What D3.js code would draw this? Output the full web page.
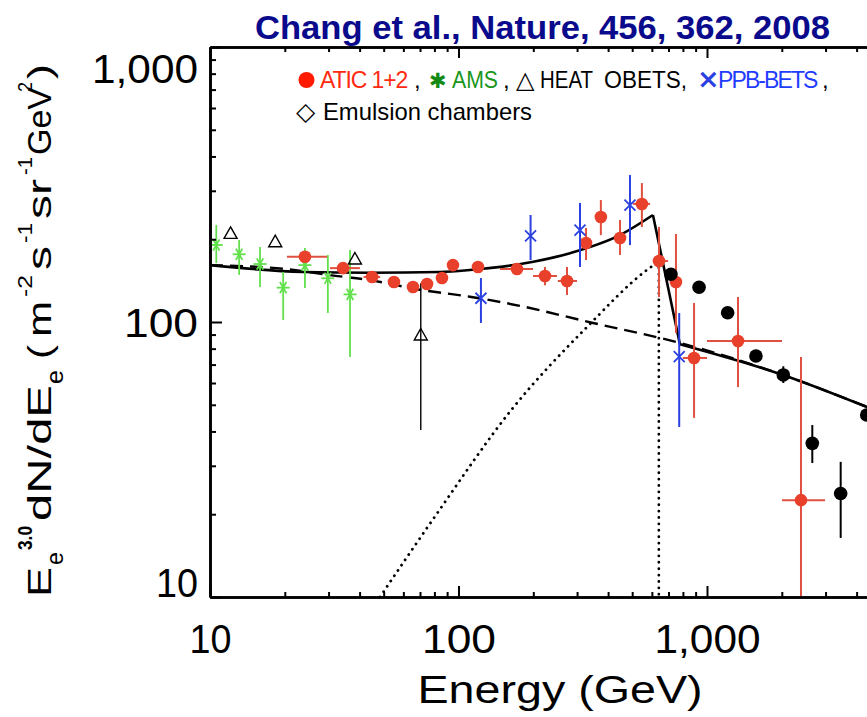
<!DOCTYPE html>
<html><head><meta charset="utf-8">
<script src="https://cdn.jsdelivr.net/npm/d3@7"></script>
<style>body{margin:0;background:#fff;overflow:hidden}</style>
</head><body>
<svg id="c" width="867" height="717"></svg>
<script>
// ---------------- DATA ----------------
const xMajor = [10, 100, 1000, 10000];
const yMajor = [10, 100, 1000];
const xTickLabels = ["10", "100", "1,000"];
const yTickLabels = ["10", "100", "1,000"];

// ATIC 1+2 (red)
const aticE   = [24.1, 34.3, 44.9, 55.0, 65.6, 74.7, 85.8, 95, 119.8, 171.9, 222.8, 273.3, 326, 374, 446.7, 547, 641, 750, 887, 1333, 2389];
const aticV   = [172.8, 157, 145.8, 139.8, 134, 137.5, 144.6, 161, 158.5, 155.9, 147, 141, 193.8, 240.9, 202, 268.7, 166.6, 139.7, 74, 85.3, 22.5];
const aticVlo = [165, 150, 140, 134, 128, 131, 138, 154, 151, 149, 136, 125.4, 168, 207, 175.3, 221.5, 123.3, 91.2, 44.8, 58, 5];
const aticVhi = [181, 164, 152, 146, 140, 144, 151, 168, 166, 163, 158.5, 158.5, 219.7, 277.6, 235, 320, 221.5, 208.9, 117.3, 123.3, 74.6];
const aticElo = [20.4, 30.4, 41.5, null, null, null, null, null, null, 146.9, 199.4, 251, null, null, null, 503.7, 606, null, 800, 1000, 2004];
const aticEhi = [29.6, 40.1, 48.4, null, null, null, null, null, null, 199.4, 249, 299.8, null, null, null, 590, 697, null, 1000, 2004, 2985];

// AMS (green asterisks)
const amsE   = [10.6, 13.1, 15.9, 19.7, 24.1, 29.8, 36.6];
const amsV   = [190.6, 176.3, 162.5, 133.3, 161, 144.2, 126];
const amsVlo = [163.9, 148.3, 134, 101.7, 132.9, 107.8, 74.6];
const amsVhi = [225.3, 198.7, 187.4, 152, 185.8, 175.3, 182.7];

// HEAT (open triangles)
const heatE   = [12.1, 18.3, 38.3, 70.5];
const heatV   = [210, 195.9, 169.5, 89.7];
const heatVlo = [null, null, null, 40.5];
const heatVhi = [null, null, null, 138.4];

// PPB-BETS (blue crosses)
const ppbE   = [123.1, 195, 308.3, 489.8, 773];
const ppbV   = [122, 205.5, 216, 266.3, 74.8];
const ppbVlo = [99.2, 168, 158.5, 190.4, 41.5];
const ppbVhi = [144.5, 245, 271, 342.5, 107.8];

// black filled circles (BETS / emulsion)
const blkE   = [716, 929, 1211, 1574, 2028, 2653, 3451, 4393];
const blkV   = [149.1, 133.7, 108.1, 75.2, 64.2, 36.2, 23.8, 45.9];
const blkVlo = [null, null, null, null, 60, 30.7, 16.4, null];
const blkVhi = [null, null, null, null, 69, 42.2, 31, null];

// model: background (dashed)
const bgE = [10, 20, 30.4, 44, 70, 111, 157, 348, 778, 2023, 4500];
const bgV = [161, 155.9, 148, 142, 131, 123.6, 117, 99.2, 83.9, 64.2, 48.7];
// model: source (dotted)
const srcE = [48.3, 80, 165.6, 328.9, 573, 640];
const srcV = [10, 19.5, 48.7, 95.9, 154.6, 166];
const srcCutE = [640, 640];
const srcCutV = [166, 9];
// model: total (solid)
const totE1 = [10, 23.7, 44, 84.3, 111, 200, 281, 446, 606];
const totV1 = [161, 152, 151, 152, 154.6, 165.6, 178, 207, 245];
const totE2 = [606, 778];
const totV2 = [245, 83];
const totE3 = [778, 2023, 4500];
const totV3 = [83, 64.2, 48.7];

const titleText = "Chang et al., Nature, 456, 362, 2008";
const xTitle = "Energy (GeV)";

// ---------------- CHART ----------------
const svg = d3.select("#c");
const x = d3.scaleLog().domain([10, 10000]).range([210, 955.5]);
const y = d3.scaleLog().domain([10, 1000]).range([597, 47]);

const RED = "#e8402a", RED_BAR = "#e0503e", GREEN = "#62e04c", BLUE = "#2a40e0";

svg.append("defs").append("clipPath").attr("id", "plot")
  .append("rect").attr("x", 210).attr("y", 47).attr("width", 760).attr("height", 550);

const zip = (a, b) => a.map((d, i) => [d, b[i]]);
const line = d3.line().x(d => x(d[0])).y(d => y(d[1]));
const smooth = d3.line().x(d => x(d[0])).y(d => y(d[1])).curve(d3.curveMonotoneX);

const g = svg.append("g").attr("clip-path", "url(#plot)");

// model curves
g.append("path").attr("d", smooth(zip(bgE, bgV)))
  .attr("fill", "none").attr("stroke", "#000").attr("stroke-width", 2.4).attr("stroke-dasharray", "13,7");
g.append("path").attr("d", smooth(zip(srcE, srcV)))
  .attr("fill", "none").attr("stroke", "#000").attr("stroke-width", 2.8)
  .attr("stroke-linecap", "round").attr("stroke-dasharray", "0.1,6.3");
g.append("path").attr("d", line(zip(srcCutE, srcCutV)))
  .attr("fill", "none").attr("stroke", "#000").attr("stroke-width", 2.8)
  .attr("stroke-linecap", "round").attr("stroke-dasharray", "0.1,6.3");
[[totE1, totV1, smooth], [totE2, totV2, line], [totE3, totV3, smooth]].forEach(([e, v, f]) => {
  g.append("path").attr("d", f(zip(e, v)))
    .attr("fill", "none").attr("stroke", "#000").attr("stroke-width", 2.6).attr("stroke-linejoin", "round");
});

function vbars(E, lo, hi, color, w) {
  E.forEach((e, i) => {
    if (lo[i] == null) return;
    g.append("line").attr("x1", x(e)).attr("x2", x(e)).attr("y1", y(hi[i])).attr("y2", y(lo[i]))
      .attr("stroke", color).attr("stroke-width", w);
  });
}
function hbars(E, V, lo, hi, color, w) {
  E.forEach((e, i) => {
    if (lo[i] == null) return;
    g.append("line").attr("x1", x(lo[i])).attr("x2", x(hi[i])).attr("y1", y(V[i])).attr("y2", y(V[i]))
      .attr("stroke", color).attr("stroke-width", w);
  });
}

// AMS
vbars(amsE, amsVlo, amsVhi, GREEN, 1.8);
amsE.forEach((e, i) => {
  const cx = x(e), cy = y(amsV[i]), r = 6.5;
  [0, 60, 120].forEach(a => {
    const rad = a * Math.PI / 180;
    g.append("line").attr("x1", cx - r * Math.cos(rad)).attr("y1", cy - r * Math.sin(rad))
      .attr("x2", cx + r * Math.cos(rad)).attr("y2", cy + r * Math.sin(rad))
      .attr("stroke", GREEN).attr("stroke-width", 1.8);
  });
});

// HEAT
vbars(heatE, heatVlo, heatVhi, "#000", 1.4);
heatE.forEach((e, i) => {
  const cx = x(e), cy = y(heatV[i]);
  g.append("path").attr("d", `M${cx},${cy - 6.5}L${cx + 6.5},${cy + 5}L${cx - 6.5},${cy + 5}Z`)
    .attr("fill", "none").attr("stroke", "#000").attr("stroke-width", 1.4);
});

// ATIC
vbars(aticE, aticVlo, aticVhi, RED_BAR, 2);
hbars(aticE, aticV, aticElo, aticEhi, RED_BAR, 2);
g.selectAll("circle.atic").data(aticE).enter().append("circle")
  .attr("cx", d => x(d)).attr("cy", (d, i) => y(aticV[i])).attr("r", 6.3).attr("fill", RED);

// PPB-BETS
vbars(ppbE, ppbVlo, ppbVhi, BLUE, 2);
ppbE.forEach((e, i) => {
  const cx = x(e), cy = y(ppbV[i]), r = 5.5;
  g.append("path").attr("d", `M${cx - r},${cy - r}L${cx + r},${cy + r}M${cx - r},${cy + r}L${cx + r},${cy - r}`)
    .attr("stroke", BLUE).attr("stroke-width", 1.8);
});

// black circles
vbars(blkE, blkVlo, blkVhi, "#000", 2);
g.selectAll("circle.blk").data(blkE).enter().append("circle")
  .attr("cx", d => x(d)).attr("cy", (d, i) => y(blkV[i])).attr("r", 6.8).attr("fill", "#000");

// ---------------- AXES ----------------
const minorX = [], minorY = [];
[10, 100, 1000].forEach(dec => { for (let k = 2; k <= 9; k++) minorX.push(k * dec); });
[10, 100].forEach(dec => { for (let k = 2; k <= 9; k++) minorY.push(k * dec); });

function styleAxis(sel) {
  sel.select(".domain").attr("stroke-width", 2.6).attr("stroke", "#000");
  sel.selectAll(".tick line").attr("stroke-width", 2).attr("stroke", "#000");
  sel.selectAll(".tick text").remove();
}
const ax = svg.append("g");
ax.append("g").attr("transform", "translate(0,597)")
  .call(d3.axisBottom(x).tickValues(minorX).tickSize(-5).tickSizeOuter(0).tickFormat("")).call(styleAxis);
ax.append("g").attr("transform", "translate(0,597)")
  .call(d3.axisBottom(x).tickValues(xMajor).tickSize(-11).tickSizeOuter(0).tickFormat("")).call(styleAxis);
ax.append("g").attr("transform", "translate(0,47)")
  .call(d3.axisTop(x).tickValues(minorX).tickSize(-5).tickSizeOuter(0).tickFormat("")).call(styleAxis);
ax.append("g").attr("transform", "translate(0,47)")
  .call(d3.axisTop(x).tickValues(xMajor).tickSize(-11).tickSizeOuter(0).tickFormat("")).call(styleAxis);
ax.append("g").attr("transform", "translate(210,0)")
  .call(d3.axisLeft(y).tickValues(minorY).tickSize(-6).tickSizeOuter(0).tickFormat("")).call(styleAxis);
ax.append("g").attr("transform", "translate(210,0)")
  .call(d3.axisLeft(y).tickValues(yMajor).tickSize(-12).tickSizeOuter(0).tickFormat("")).call(styleAxis);

const FONT = "Liberation Sans, Arial, sans-serif";
const labelW = { "10": 42, "100": 74, "1,000": 106 };

// x tick labels
const xl = svg.append("g").attr("transform", "translate(0,597)")
  .call(d3.axisBottom(x).tickValues(xMajor.slice(0, 3)).tickSize(0).tickPadding(28)
    .tickFormat((d, i) => xTickLabels[i]));
xl.select(".domain").remove();
xl.selectAll(".tick text").attr("font-family", FONT).attr("font-size", 40).attr("fill", "#000")
  .attr("textLength", function () { return labelW[this.textContent]; })
  .attr("lengthAdjust", "spacingAndGlyphs");

// y tick labels
const yOff = { 10: -15, 100: 0, 1000: 21 };
const yl = svg.append("g").attr("transform", "translate(210,0)")
  .call(d3.axisLeft(y).tickValues(yMajor).tickSize(0).tickPadding(12)
    .tickFormat((d, i) => yTickLabels[i]));
yl.select(".domain").remove();
yl.selectAll(".tick text").attr("font-family", FONT).attr("font-size", 40).attr("fill", "#000")
  .attr("y", d => yOff[d]).attr("dy", "0.36em")
  .attr("textLength", function () { return labelW[this.textContent]; })
  .attr("lengthAdjust", "spacingAndGlyphs");

// x title
svg.append("text").attr("x", 560).attr("y", 703).attr("text-anchor", "middle")
  .attr("font-family", FONT).attr("font-size", 39).attr("fill", "#000")
  .attr("textLength", 285).attr("lengthAdjust", "spacingAndGlyphs").text(xTitle);

// y title: pieces laid along the rotated baseline [text, start, length, shift, size, weight]
const yTitleParts = [
  ["E", 0, 30, 0, 34, "normal"],
  ["e", 32, 13, 12, 24, "normal"],
  ["3.0", 47, 24, -19, 20, "bold"],
  ["dN/dE", 76, 136, 0, 34, "normal"],
  ["e", 213, 14, 12, 24, "normal"],
  ["(", 238, 14, 0, 34, "normal"],
  ["m", 260, 36, 0, 34, "normal"],
  ["-2", 300, 22, -19, 20, "normal"],
  ["s", 327, 24, 0, 34, "normal"],
  ["-1", 354, 20, -19, 20, "normal"],
  ["sr", 378, 40, 0, 34, "normal"],
  ["-1", 422, 18, -19, 20, "normal"],
  ["GeV", 442, 68, 0, 34, "normal"],
  ["2", 505, 10, -19, 20, "normal"],
  [")", 518, 15, 0, 34, "normal"]
];
const yt = svg.append("g").attr("transform", "translate(51,597) rotate(-90)");
yTitleParts.forEach(([t, s, len, sh, fs, fw]) => {
  yt.append("text").attr("x", s).attr("y", sh).attr("font-family", FONT)
    .attr("font-size", fs).attr("font-weight", fw).attr("fill", "#000")
    .attr("textLength", len).attr("lengthAdjust", "spacingAndGlyphs").text(t);
});

// title
svg.append("text").attr("x", 255).attr("y", 39)
  .attr("font-family", "Liberation Sans Narrow, Liberation Sans, Arial, sans-serif")
  .attr("font-weight", "bold").attr("font-size", 33).attr("fill", "#0a0a8c")
  .attr("textLength", 575).attr("lengthAdjust", "spacingAndGlyphs").text(titleText);

// legend: one text element per line, pieces as tspans with fitted lengths
const LFONT = "Liberation Sans, Arial, sans-serif";
const SFONT = "DejaVu Sans, sans-serif";
const legendLine1 = [
  { t: "ATIC 1+2", c: "#ff2a10", x: 320, fs: 23, ls: -1.1 },
  { t: ",", c: "#000", x: 414 },
  { t: "\u2731", c: "#128a12", x: 429, font: SFONT, fs: 21 },
  { t: "AMS", c: "#1a961a", x: 452, w: 46 },
  { t: ",", c: "#000", x: 503 },
  { t: "\u25b3", c: "#000", x: 516, font: SFONT, fs: 24 },
  { t: "HEAT", c: "#000", x: 540, w: 53 },
  { t: "O", c: "#000", x: 604, fs: 23 },
  { t: "BETS,", c: "#000", x: 622, w: 65 },
  { t: "\u00d7", c: BLUE, x: 697, font: SFONT, fs: 27, fw: "bold" },
  { t: "PPB-BETS", c: "#1f3dff", x: 718, fs: 23, ls: -1.9 },
  { t: ",", c: "#000", x: 822 }
];
const legendLine2 = [
  { t: "\u25c7", c: "#000", x: 296, font: SFONT, fs: 25 },
  { t: "Emulsion chambers", c: "#000", x: 323, w: 209 }
];
svg.append("circle").attr("cx", 306.5).attr("cy", 80).attr("r", 8).attr("fill", "#ff1a00");
[[legendLine1, 88], [legendLine2, 120]].forEach(([items, by]) => {
  const t = svg.append("text").attr("y", by).attr("font-family", LFONT).attr("font-size", 24);
  items.forEach(it => {
    const ts = t.append("tspan").attr("fill", it.c).attr("x", it.x).text(it.t);
    if (it.w) ts.attr("textLength", it.w).attr("lengthAdjust", "spacingAndGlyphs");
    if (it.font) ts.attr("font-family", it.font);
    if (it.fs) ts.attr("font-size", it.fs);
    if (it.fw) ts.attr("font-weight", it.fw);
    if (it.ls) ts.attr("letter-spacing", it.ls);
  });
});
</script>
</body></html>
